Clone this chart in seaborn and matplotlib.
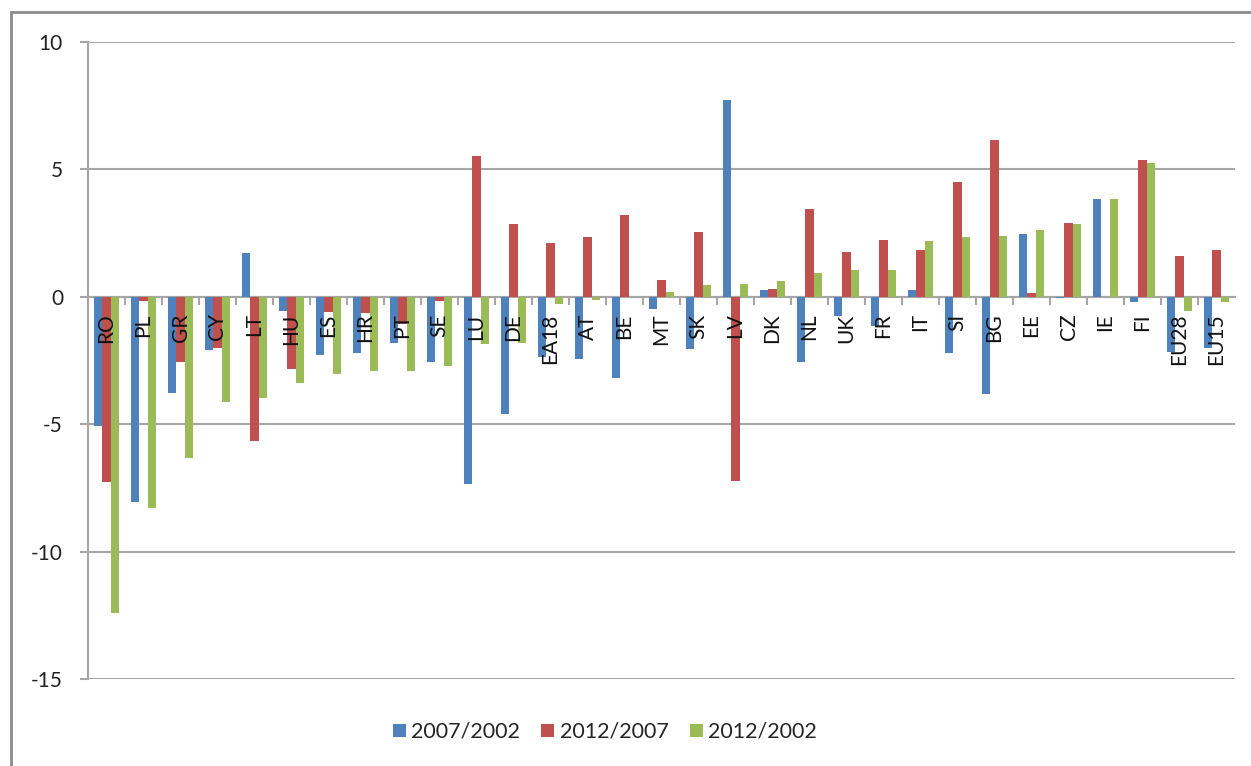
import numpy as np
import pandas as pd
import matplotlib
matplotlib.use("Agg")
import matplotlib.pyplot as plt
from matplotlib.lines import Line2D
import seaborn as sns

categories = ["RO", "PL", "GR", "CY", "LT", "HU", "ES", "HR", "PT", "SE", "LU", "DE",
              "EA18", "AT", "BE", "MT", "SK", "LV", "DK", "NL", "UK", "FR", "IT", "SI",
              "BG", "EE", "CZ", "IE", "FI", "EU28", "EU15"]
series_names = ["2007/2002", "2012/2007", "2012/2002"]
v_2007_2002 = [-5.08, -8.06, -3.78, -2.07, 1.70, -0.56, -2.28, -2.22, -1.83, -2.57, -7.35, -4.60,
               -2.38, -2.43, -3.19, -0.46, -2.04, 7.72, 0.26, -2.55, -0.74, -1.13, 0.26, -2.19,
               -3.82, 2.48, -0.06, 3.84, -0.20, -2.15, -2.00]
v_2012_2007 = [-7.25, -0.16, -2.56, -2.02, -5.64, -2.83, -0.60, -0.65, -1.06, -0.18, 5.53, 2.86,
               2.10, 2.36, 3.20, 0.64, 2.55, -7.22, 0.31, 3.46, 1.77, 2.23, 1.83, 4.51,
               6.17, 0.15, 2.89, 0.00, 5.37, 1.61, 1.83]
v_2012_2002 = [-12.40, -8.27, -6.34, -4.13, -3.97, -3.38, -3.03, -2.91, -2.93, -2.73, -1.84, -1.80,
               -0.27, -0.12, 0.00, 0.17, 0.48, 0.51, 0.61, 0.92, 1.06, 1.06, 2.18, 2.33,
               2.37, 2.64, 2.84, 3.84, 5.24, -0.55, -0.20]
y_ticks = [-15, -10, -5, 0, 5, 10]
colors = ["#4F81BD", "#C0504D", "#9BBB59"]

df = pd.DataFrame({
    "country": categories * 3,
    "series": [s for s in series_names for _ in categories],
    "value": v_2007_2002 + v_2012_2007 + v_2012_2002,
})

sns.set_theme(style="white")
plt.rcParams["font.family"] = ["Lato", "DejaVu Sans"]

fig = plt.figure(figsize=(12.51, 7.66), dpi=100)
ax = fig.add_axes([88 / 1251, 1 - 679 / 766, (1235 - 88) / 1251, (679 - 42) / 766])

sns.barplot(data=df, x="country", y="value", hue="series", order=categories,
            hue_order=series_names, palette=colors, width=0.65, gap=0,
            saturation=1, edgecolor="none", linewidth=0, ax=ax, legend=True)

grid_c = "#A6A6A6"
ax.set_ylim(-15, 10)
ax.set_xlim(-0.5, len(categories) - 0.5)
ax.set_yticks(y_ticks)
ax.set_yticklabels([str(t) for t in y_ticks], fontsize=15, color="#222222")
ax.yaxis.grid(True, color=grid_c, linewidth=1.5)
ax.set_axisbelow(True)
ax.set_xlabel("")
ax.set_ylabel("")

for s in ["top", "right"]:
    ax.spines[s].set_visible(False)
ax.spines["left"].set_color(grid_c)
ax.spines["left"].set_linewidth(1.5)
ax.spines["bottom"].set_position(("data", 0))
ax.spines["bottom"].set_color(grid_c)
ax.spines["bottom"].set_linewidth(1.5)
ax.spines["bottom"].set_zorder(0.5)

ax.tick_params(axis="y", which="major", left=True, length=6, width=1.5, color=grid_c, pad=12)
ax.set_xticks(range(len(categories)))
ax.set_xticklabels(categories, rotation=90, fontsize=15, color="#111111")
ax.set_xticks(np.arange(len(categories) - 1) + 0.5, minor=True)
ax.tick_params(axis="x", which="major", bottom=True, length=0, pad=12)
ax.tick_params(axis="x", which="minor", bottom=True, length=6, width=1.5, color=grid_c, direction="out")
for lab in ax.get_xticklabels():
    lab.set_verticalalignment("top")
ax.xaxis.set_zorder(5)

handles, labels = ax.get_legend_handles_labels()
ax.legend_.remove()
fig.legend(handles, labels, loc="center", bbox_to_anchor=(605 / 1251, 1 - 732 / 766),
           ncol=3, frameon=False, fontsize=15.5, handlelength=0.6, handleheight=0.6,
           handletextpad=0.25, columnspacing=1.0)

border_c = "#8C8C8C"
fig.add_artist(Line2D([11 / 1251, 1.0], [1 - 12 / 766, 1 - 12 / 766], transform=fig.transFigure,
                      color=border_c, linewidth=2))
fig.add_artist(Line2D([11 / 1251, 11 / 1251], [1 - 12 / 766, 0.0], transform=fig.transFigure,
                      color=border_c, linewidth=2))

fig.savefig("out.png", dpi=100, facecolor="white")
